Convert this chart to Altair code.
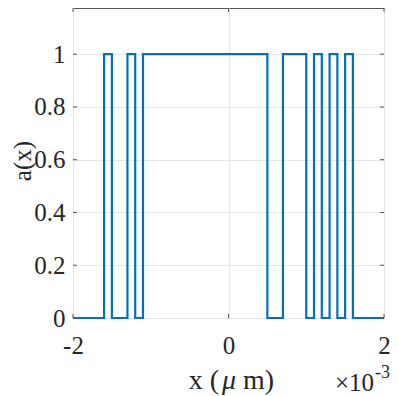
import altair as alt
import pandas as pd

# step function a(x): x positions (units of 1e-3 um) and level after each edge
edges = [-2.0, -1.6, -1.5, -1.3, -1.2, -1.1, 0.5, 0.7, 1.0, 1.1, 1.2, 1.3, 1.4, 1.5, 1.6, 2.0]
levels = [0, 1, 0, 1, 0, 1, 0, 1, 0, 1, 0, 1, 0, 1, 0, 0]
x_ticks = [-2, 0, 2]
y_ticks = [0, 0.2, 0.4, 0.6, 0.8, 1.0]
x_title_parts = ["x (", "\u03bc", "m)"]
y_title = "a(x)"
exp_base = "\u00d710"
exp_power = "-3"

W, H = 311, 310
FONT = "Liberation Serif"
AX = "#555555"
TXT = "#262626"

df = pd.DataFrame({"x": edges, "a": levels})
xs = alt.Scale(domain=[-2, 2], nice=False, zero=False)
ys = alt.Scale(domain=[0, 1.175], nice=False, zero=False)

xaxis = alt.Axis(
    values=x_ticks, title=None, domain=False, ticks=False, grid=True,
    gridColor="#e6e6e6", labelFont=FONT, labelFontSize=25, labelColor=TXT,
    labelPadding=15, labelFlush=False,
    labelExpr="datum.value < 0 ? '-' + abs(datum.value) : '' + datum.value")
yaxis = alt.Axis(
    values=y_ticks, title=None, domain=False, ticks=False, grid=True,
    gridColor="#e6e6e6", labelFont=FONT, labelFontSize=25, labelColor=TXT,
    labelPadding=8, labelFlush=False, labelExpr="'' + datum.value")

line = alt.Chart(df).mark_line(
    interpolate="step-after", color="#0072BD", strokeWidth=2.2
).encode(
    x=alt.X("x:Q", scale=xs, axis=xaxis),
    y=alt.Y("a:Q", scale=ys, axis=yaxis),
)

ydf = pd.DataFrame({"x": [0.0] * len(y_ticks), "a": y_ticks})
xdf = pd.DataFrame({"x": x_ticks, "a": [0.0] * len(x_ticks)})
tl = alt.Chart(ydf).mark_rule(color=AX, strokeWidth=1).encode(
    y=alt.Y("a:Q", scale=ys, axis=yaxis), x=alt.value(0), x2=alt.value(4))
tr = alt.Chart(ydf).mark_rule(color=AX, strokeWidth=1).encode(
    y=alt.Y("a:Q", scale=ys, axis=yaxis), x=alt.value(W), x2=alt.value(W - 4))
tb = alt.Chart(xdf).mark_rule(color=AX, strokeWidth=1).encode(
    x=alt.X("x:Q", scale=xs, axis=xaxis), y=alt.value(H), y2=alt.value(H - 4))
tt = alt.Chart(xdf).mark_rule(color=AX, strokeWidth=1).encode(
    x=alt.X("x:Q", scale=xs, axis=xaxis), y=alt.value(0), y2=alt.value(4))

def txt(s, x, y, size, align="left", style="normal", angle=0, baseline="alphabetic"):
    kw = dict(font=FONT, fontSize=size, align=align, baseline=baseline,
              color=TXT, fontStyle=style)
    if angle:
        kw["angle"] = angle
    return alt.Chart(pd.DataFrame({"t": [s]})).mark_text(**kw).encode(
        text="t:N", x=alt.value(x), y=alt.value(y))

texts = [
    txt(x_title_parts[0], 146, 381, 28, align="right"),
    txt(x_title_parts[1], 156, 381, 28, align="center", style="italic"),
    txt(x_title_parts[2], 170, 381, 28, align="left"),
    txt(y_title, -50.5, 153, 25, align="center", angle=270, baseline="middle"),
    txt(exp_base, 301, 383, 25, align="right"),
    txt(exp_power, 302, 370, 18, align="left"),
]

chart = alt.layer(line, tl, tr, tb, tt, *texts).properties(
    width=W, height=H, autosize="none",
    padding={"left": 65, "top": 0, "right": 7, "bottom": 78},
).configure_view(stroke=AX, strokeWidth=1)

chart.save("out.html", embed_options={"renderer": "svg", "actions": False})
